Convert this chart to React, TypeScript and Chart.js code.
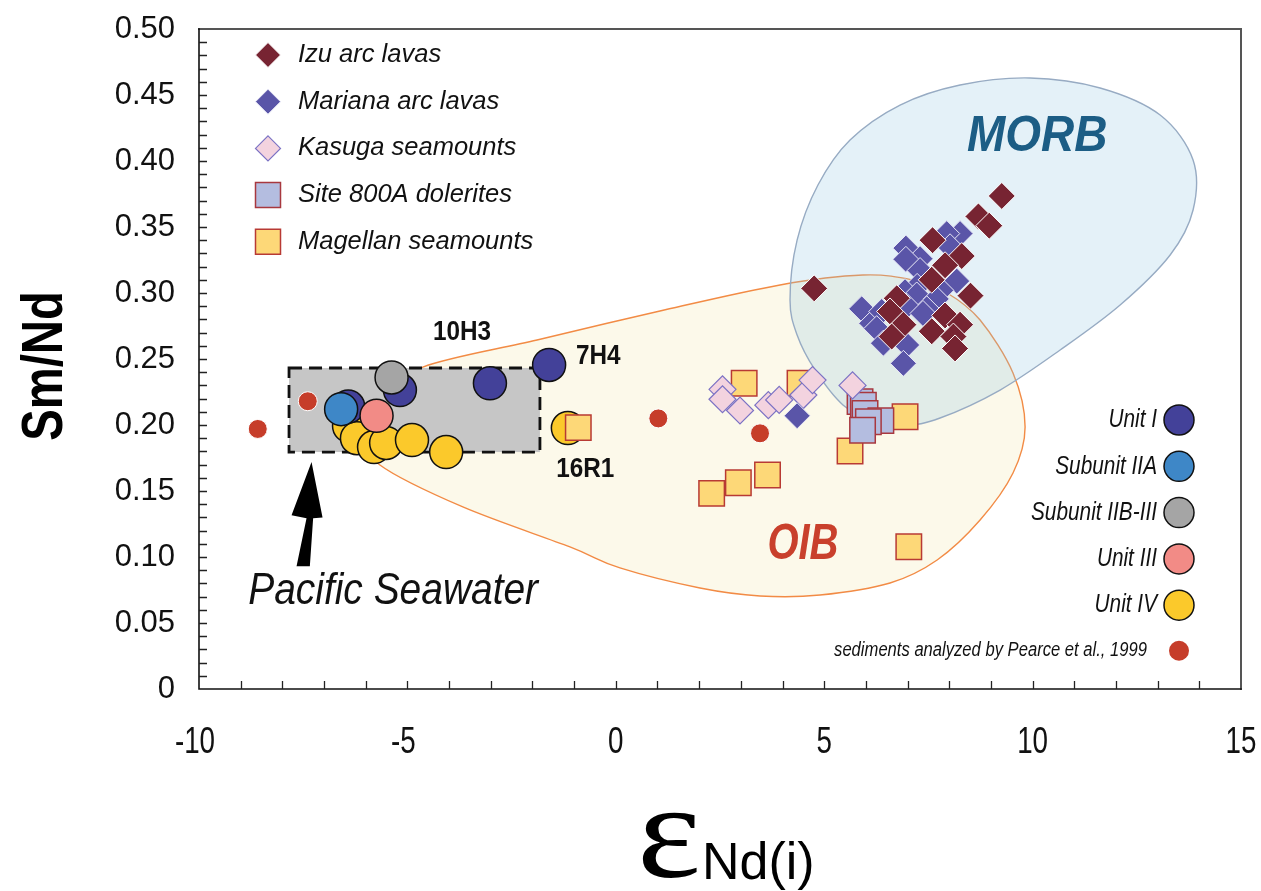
import { useEffect, useRef } from "react";
import { Chart, registerables } from "chart.js";

Chart.register(...registerables);

// ---- axes ----
const X_MIN = -10;
const X_MAX = 15;
const Y_MIN = 0;
const Y_MAX = 0.5;
const xTickLabels = [-10, -5, 0, 5, 10, 15];

// ---- series: [eNd(i), Sm/Nd] ----
const izuArc: number[][] = [
  [9.26, 0.3735], [8.7, 0.358], [8.96, 0.351], [7.6, 0.34], [8.3, 0.328], [7.9, 0.321],
  [7.58, 0.31], [8.51, 0.298], [4.76, 0.3035], [6.74, 0.296], [6.58, 0.286], [6.9, 0.276],
  [6.62, 0.267], [7.58, 0.271], [7.9, 0.283], [8.26, 0.276], [8.1, 0.267], [8.14, 0.258],
];
const marianaArc: number[][] = [
  [8.26, 0.345], [7.94, 0.345], [6.96, 0.334], [7.3, 0.326], [6.96, 0.3255], [7.3, 0.317],
  [8.02, 0.335], [8.18, 0.309], [7.23, 0.305], [6.94, 0.301], [7.22, 0.2985], [7.8, 0.302],
  [5.9, 0.288], [7.69, 0.2955], [7.46, 0.288], [6.14, 0.277], [6.38, 0.286], [6.98, 0.29],
  [6.26, 0.273], [6.42, 0.262], [6.98, 0.2606], [6.9, 0.2467], [7.37, 0.2845], [4.35, 0.207],
];
const kasuga: number[][] = [
  [2.56, 0.227], [2.56, 0.2195], [2.98, 0.211], [3.66, 0.215], [3.92, 0.219], [4.5, 0.2227],
  [4.72, 0.234], [5.68, 0.23],
];
const site800A: number[][] = [
  [5.86, 0.2177], [5.94, 0.215], [5.98, 0.2088], [6.36, 0.2033], [6.06, 0.2025], [5.92, 0.196],
];
const magellan: number[][] = [
  [3.08, 0.2316], [4.42, 0.2316], [6.94, 0.2063], [5.62, 0.1803], [2.3, 0.1482], [2.94, 0.1563],
  [3.64, 0.1621], [7.03, 0.1078], [-0.9, 0.198],
];
const unitI: number[][] = [[-5.18, 0.2265], [-6.42, 0.214], [-3.02, 0.2316], [-1.6, 0.2455]];
const subunitIIA: number[][] = [[-6.59, 0.212]];
const subunitIIBIII: number[][] = [[-5.38, 0.236]];
const unitIII: number[][] = [[-5.74, 0.207]];
const unitIV: number[][] = [
  [-6.4, 0.1992], [-6.21, 0.19], [-5.8, 0.1833], [-5.51, 0.1864], [-4.89, 0.1886],
  [-4.07, 0.1795], [-1.15, 0.1977],
];
const sediments: number[][] = [[-7.39, 0.218], [-8.59, 0.197], [1.02, 0.205], [3.46, 0.1937]];

// ---- field outlines (closed, smoothed) ----
const morbOutline: number[][] = [
  [4.18, 0.2947], [4.35, 0.34], [4.85, 0.3818], [5.62, 0.4159], [6.82, 0.4424], [8.26, 0.4576],
  [9.94, 0.4629], [11.62, 0.4553], [13.06, 0.4348], [13.85, 0.4008], [13.85, 0.3629],
  [13.3, 0.3288], [12.1, 0.2909], [10.66, 0.2568], [9.22, 0.2265], [7.78, 0.2053], [6.94, 0.2],
  [6.1, 0.2053], [5.45, 0.2152], [4.78, 0.2417], [4.35, 0.2682],
];
const oibOutline: number[][] = [
  [-5.66, 0.219], [-4.63, 0.2439], [-1.89, 0.2644], [1.06, 0.2864], [3.94, 0.3061], [5.93, 0.3136],
  [7.13, 0.3098], [7.95, 0.3], [8.74, 0.2795], [9.53, 0.2394], [9.82, 0.1985], [9.53, 0.1636],
  [8.74, 0.128], [7.71, 0.0977], [6.58, 0.0803], [4.9, 0.0712], [3.46, 0.0705], [2.02, 0.0765],
  [0.1, 0.0917], [-1.1, 0.1076], [-3.67, 0.1379], [-5.66, 0.1697], [-6.02, 0.1924],
];
const seawaterX = [-7.84, -1.82];
const seawaterY = [0.1795, 0.2432];

// ---- legend names ----
const leftLegendNames = ["Izu arc lavas", "Mariana arc lavas", "Kasuga seamounts", "Site 800A dolerites", "Magellan seamounts"];
const unitNames = ["Unit I", "Subunit IIA", "Subunit IIB-III", "Unit III", "Unit IV"];
const sedimentNote = "sediments analyzed by Pearce et al., 1999";

const SANS = '"Liberation Sans", Arial, Helvetica, sans-serif';
const SERIF = '"Liberation Serif", "Times New Roman", serif';

type Marker = { shape: "diamond" | "square" | "circle"; fill: string; stroke: string; lw: number };
const markerStyles: Marker[] = [
  { shape: "diamond", fill: "#772432", stroke: "#ffffff", lw: 1 },
  { shape: "diamond", fill: "#5a55a8", stroke: "#e8e8f6", lw: 1 },
  { shape: "diamond", fill: "#f3d3df", stroke: "#7b72c4", lw: 1.2 },
  { shape: "square", fill: "#b4bde0", stroke: "#a8383f", lw: 1.5 },
  { shape: "square", fill: "#fdd878", stroke: "#b83a34", lw: 1.5 },
];
const unitColors = ["#434199", "#3e87c7", "#a5a5a5", "#f28b86", "#fbc92b"];
const sedimentColor = "#c63d2a";

const pts = (arr: number[][]) => arr.map(([x, y]) => ({ x, y }));

function text(
  ctx: CanvasRenderingContext2D, s: string, x: number, y: number, font: string, color: string,
  align: CanvasTextAlign = "left", sx = 1, rot = 0
) {
  ctx.save();
  ctx.translate(x, y);
  if (rot) ctx.rotate(rot);
  ctx.scale(sx, 1);
  ctx.font = font;
  ctx.fillStyle = color;
  ctx.textAlign = align;
  ctx.textBaseline = "middle";
  ctx.fillText(s, 0, 0);
  ctx.restore();
}

function marker(ctx: CanvasRenderingContext2D, m: Marker, x: number, y: number, r: number) {
  ctx.save();
  ctx.beginPath();
  if (m.shape === "diamond") {
    ctx.moveTo(x, y - r); ctx.lineTo(x + r, y); ctx.lineTo(x, y + r); ctx.lineTo(x - r, y);
    ctx.closePath();
  } else if (m.shape === "square") {
    ctx.rect(x - r, y - r, 2 * r, 2 * r);
  } else {
    ctx.arc(x, y, r, 0, Math.PI * 2);
  }
  ctx.fillStyle = m.fill;
  ctx.fill();
  if (m.lw > 0) {
    ctx.lineWidth = m.lw;
    ctx.strokeStyle = m.stroke;
    ctx.stroke();
  }
  ctx.restore();
}

function smoothClosed(ctx: CanvasRenderingContext2D, p: number[][]) {
  const n = p.length;
  ctx.beginPath();
  ctx.moveTo(p[0][0], p[0][1]);
  for (let i = 0; i < n; i++) {
    const p0 = p[(i - 1 + n) % n], p1 = p[i], p2 = p[(i + 1) % n], p3 = p[(i + 2) % n];
    ctx.bezierCurveTo(
      p1[0] + (p2[0] - p0[0]) / 6, p1[1] + (p2[1] - p0[1]) / 6,
      p2[0] - (p3[0] - p1[0]) / 6, p2[1] - (p3[1] - p1[1]) / 6,
      p2[0], p2[1]
    );
  }
  ctx.closePath();
}

const decorations = {
  id: "decorations",
  beforeDatasetsDraw(chart: any) {
    const ctx: CanvasRenderingContext2D = chart.ctx;
    const xs = chart.scales.x, ys = chart.scales.y;
    const toPx = (a: number[][]) => a.map(([x, y]) => [xs.getPixelForValue(x), ys.getPixelForValue(y)]);

    ctx.save();
    // OIB field
    smoothClosed(ctx, toPx(oibOutline));
    ctx.fillStyle = "#fcf9ea";
    ctx.fill();
    ctx.lineWidth = 1.4;
    ctx.strokeStyle = "#f28b45";
    ctx.stroke();
    // MORB field
    smoothClosed(ctx, toPx(morbOutline));
    ctx.fillStyle = "rgba(143,197,226,0.24)";
    ctx.fill();
    ctx.lineWidth = 1.4;
    ctx.strokeStyle = "#97abc3";
    ctx.stroke();

    // Pacific seawater box
    const bx0 = xs.getPixelForValue(seawaterX[0]), bx1 = xs.getPixelForValue(seawaterX[1]);
    const by0 = ys.getPixelForValue(seawaterY[1]), by1 = ys.getPixelForValue(seawaterY[0]);
    ctx.fillStyle = "#c6c6c6";
    ctx.fillRect(bx0, by0, bx1 - bx0, by1 - by0);
    ctx.setLineDash([13, 7]);
    ctx.lineWidth = 2.8;
    ctx.strokeStyle = "#111";
    ctx.strokeRect(bx0, by0, bx1 - bx0, by1 - by0);
    ctx.setLineDash([]);

    // field names
    text(ctx, "MORB", xs.getPixelForValue(10.11), ys.getPixelForValue(0.418),
      `italic bold 50px ${SANS}`, "#1c5d85", "center", 0.92);
    text(ctx, "OIB", xs.getPixelForValue(4.49), ys.getPixelForValue(0.109),
      `italic bold 50px ${SANS}`, "#c9402c", "center", 0.8);
    ctx.restore();
  },
  afterDatasetsDraw(chart: any) {
    const ctx: CanvasRenderingContext2D = chart.ctx;
    const xs = chart.scales.x, ys = chart.scales.y;
    const { left, right, top, bottom } = chart.chartArea;
    ctx.save();

    // sample labels
    const bold = `bold 27px ${SANS}`;
    text(ctx, "10H3", xs.getPixelForValue(-3.69), ys.getPixelForValue(0.2697), bold, "#111", "center", 0.9);
    text(ctx, "7H4", xs.getPixelForValue(-0.955), ys.getPixelForValue(0.2515), bold, "#111", "left", 0.9);
    text(ctx, "16R1", xs.getPixelForValue(-1.43), ys.getPixelForValue(0.1659), bold, "#111", "left", 0.9);

    // arrow pointing to seawater box
    const tx = xs.getPixelForValue(-7.3), ty = ys.getPixelForValue(0.172);
    ctx.beginPath();
    ctx.moveTo(tx, ty);
    ctx.lineTo(tx + 11, ty + 55.6);
    ctx.lineTo(tx + 1.6, ty + 56.3);
    ctx.lineTo(tx - 1.7, ty + 104.3);
    ctx.lineTo(tx - 15, ty + 104.3);
    ctx.lineTo(tx - 5, ty + 56.3);
    ctx.lineTo(tx - 20, ty + 53.3);
    ctx.closePath();
    ctx.fillStyle = "#000";
    ctx.fill();
    text(ctx, "Pacific Seawater", xs.getPixelForValue(-8.82), ys.getPixelForValue(0.0742),
      `italic 45px ${SANS}`, "#111", "left", 0.865);

    // top-left legend
    leftLegendNames.forEach((name, i) => {
      const y = top + 26 + i * 46.7;
      marker(ctx, markerStyles[i], left + 69, y, 12.5);
      text(ctx, name, left + 99, y, `italic 25.5px ${SANS}`, "#111", "left");
    });

    // right legend
    unitNames.forEach((name, i) => {
      const y = top + 391 + i * 46.3;
      marker(ctx, { shape: "circle", fill: unitColors[i], stroke: "#111", lw: 1.5 }, right - 62, y, 15);
      text(ctx, name, right - 84, y, `italic 26px ${SANS}`, "#111", "right", 0.8);
    });
    marker(ctx, { shape: "circle", fill: sedimentColor, stroke: sedimentColor, lw: 0 }, right - 62, top + 621.7, 10);
    text(ctx, sedimentNote, right - 94, top + 621, `italic 20.5px ${SANS}`, "#111", "right", 0.81);

    // frame
    ctx.lineCap = "square";
    ctx.strokeStyle = "#555";
    ctx.lineWidth = 2;
    ctx.beginPath();
    ctx.moveTo(left, top); ctx.lineTo(right, top); ctx.lineTo(right, bottom);
    ctx.stroke();
    ctx.strokeStyle = "#111";
    ctx.lineWidth = 1.6;
    ctx.beginPath();
    ctx.moveTo(left, top); ctx.lineTo(left, bottom); ctx.lineTo(right, bottom);
    ctx.stroke();

    // inward tick marks
    ctx.lineWidth = 1.3;
    ctx.strokeStyle = "#222";
    ctx.lineCap = "butt";
    ctx.beginPath();
    for (let i = 1; i < 50; i++) {
      const py = Math.round(ys.getPixelForValue(i / 100)) + 0.5;
      ctx.moveTo(left, py); ctx.lineTo(left + 8, py);
    }
    for (let v = X_MIN + 1; v < X_MAX; v++) {
      const px = Math.round(xs.getPixelForValue(v)) + 0.5;
      ctx.moveTo(px, bottom); ctx.lineTo(px, bottom - 8);
    }
    ctx.stroke();

    // x tick labels
    xTickLabels.forEach((v) => {
      text(ctx, String(v), xs.getPixelForValue(v) - (v < 0 ? 4 : 0), bottom + 54, `37px ${SANS}`, "#111", "center", 0.75);
    });

    // axis titles
    text(ctx, "Sm/Nd", 46, (top + bottom) / 2 + 7, `bold 58px ${SANS}`, "#000", "center", 0.815, -Math.PI / 2);
    ctx.fillStyle = "#000";
    ctx.textAlign = "left";
    ctx.textBaseline = "alphabetic";
    ctx.save();
    ctx.translate(637, 877);
    ctx.scale(1.12, 1);
    ctx.font = `136px ${SERIF}`;
    ctx.fillText("\u03b5", 0, 0);
    ctx.restore();
    ctx.save();
    ctx.translate(702, 879);
    ctx.scale(1.0, 1);
    ctx.font = `52px ${SANS}`;
    ctx.fillText("Nd(i)", 0, 0);
    ctx.restore();

    ctx.restore();
  },
};

export default function App() {
  const ref = useRef<HTMLCanvasElement>(null);

  useEffect(() => {
    if (!ref.current) return;
    const circle = (label: string, data: number[][], color: string) => ({
      label, data: pts(data), pointStyle: "circle", pointRadius: 16.5,
      backgroundColor: color, borderColor: "#111", borderWidth: 1.5,
    });
    const shape = (label: string, data: number[][], m: Marker, r: number) => ({
      label, data: pts(data), pointStyle: m.shape === "diamond" ? "rectRot" : "rect", pointRadius: r,
      backgroundColor: m.fill, borderColor: m.stroke, borderWidth: m.lw,
    });

    // earlier datasets are painted on top
    const chart = new Chart(ref.current, {
      type: "scatter",
      data: {
        datasets: [
          shape(leftLegendNames[0], izuArc, markerStyles[0], 13.5),
          shape(leftLegendNames[1], marianaArc, markerStyles[1], 13),
          shape(leftLegendNames[2], kasuga, markerStyles[2], 13.5),
          shape(leftLegendNames[3], site800A, markerStyles[3], 18),
          shape(leftLegendNames[4], magellan, markerStyles[4], 18),
          circle(unitNames[2], subunitIIBIII, unitColors[2]),
          circle(unitNames[1], subunitIIA, unitColors[1]),
          circle(unitNames[3], unitIII, unitColors[3]),
          circle(unitNames[0], unitI, unitColors[0]),
          circle(unitNames[4], unitIV, unitColors[4]),
          {
            label: sedimentNote, data: pts(sediments), pointStyle: "circle", pointRadius: 9.5,
            backgroundColor: sedimentColor, borderColor: "#ffffff", borderWidth: 1,
          },
        ] as any,
      },
      options: {
        animation: false,
        responsive: false,
        events: [],
        layout: { padding: { top: 29, right: 20, left: 0, bottom: 0 } },
        plugins: { legend: { display: false }, tooltip: { enabled: false } },
        scales: {
          x: {
            type: "linear", min: X_MIN, max: X_MAX,
            grid: { display: false, drawTicks: false },
            border: { display: false },
            ticks: { display: false },
            afterFit: (s: any) => { s.height = 202; s.paddingLeft = 0; s.paddingRight = 0; },
          },
          y: {
            type: "linear", min: Y_MIN, max: Y_MAX,
            grid: { display: false, drawTicks: false },
            border: { display: false },
            ticks: {
              stepSize: 0.05,
              padding: 24,
              color: "#111",
              font: { family: SANS, size: 31 },
              callback: (v: any) => {
                const n = Math.round(Number(v) * 100);
                return n === 0 ? "0" : (n / 100).toFixed(2);
              },
            },
            afterFit: (s: any) => { s.width = 199; s.paddingTop = 0; s.paddingBottom = 0; },
          },
        },
      } as any,
      plugins: [decorations],
    });
    return () => chart.destroy();
  }, []);

  return (
    <div style={{ position: "absolute", left: 0, top: 0, width: 1261, height: 891, background: "#fff" }}>
      <canvas ref={ref} width={1261} height={891} style={{ width: 1261, height: 891, display: "block" }} />
    </div>
  );
}
